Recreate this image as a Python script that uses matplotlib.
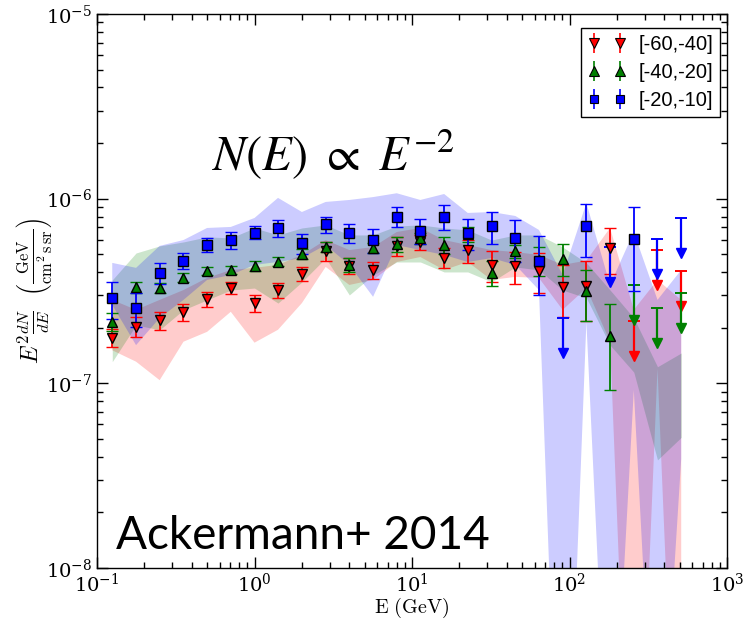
import numpy as np
import matplotlib
matplotlib.use("Agg")
import matplotlib.pyplot as plt

plt.rcParams['mathtext.fontset'] = 'cm'
plt.rcParams['font.family'] = ['DejaVu Serif']

nan = np.nan
SCALE = 1e-7

energy = [0.125, 0.177, 0.25, 0.354, 0.5, 0.707, 1.0, 1.41, 2.0, 2.83, 4.0, 5.66,
          8.0, 11.3, 16.0, 22.6, 32.0, 45.3, 64.0, 90.5, 128, 181, 256, 362, 512]

labels = ['[-60,-40]', '[-40,-20]', '[-20,-10]']

# values in units of 1e-7 GeV cm^-2 s^-1 sr^-1
red_val = [1.77, 2.03, 2.19, 2.43, 2.87, 3.29, 2.72, 3.21, 3.92, 5.23, 4.33, 4.11, 5.54,
           5.8, 4.79, 5.24, 4.38, 4.3, 4.07, 3.34, 3.37, 5.43, nan, nan, nan]
red_err = [0.19, 0.25, 0.24, 0.26, 0.27, 0.26, 0.29, 0.3, 0.34, 0.61, 0.43, 0.45, 0.65,
           0.55, 0.59, 0.74, 0.83, 0.86, 1.0, 1.04, 1.2, 1.53, nan, nan, nan]
red_ul = [nan] * 22 + [2.17, 5.27, 4.08]
red_hi = [2.83, 2.5, 2.83, 3.2, 3.72, 4.11, 4.22, 4.38, 4.96, 5.97, 5.27, 5.47, 6.6,
          6.94, 5.97, 5.61, 5.27, 5.14, 4.96, 4.38, 4.62, 6.94, 2.5, 3.63, 2.83]
red_lo = [1.51, 1.31, 1.04, 1.68, 1.9, 2.44, 1.66, 1.95, 2.72, 4.27, 3.41, 3.63, 4.54,
          4.83, 4.11, 4.54, 3.63, 3.77, 3.72, 2.5, 3.28, 1.68, 0.001, 1.2, 0.001]

green_val = [2.16, 3.31, 3.30, 3.74, 4.06, 4.11, 4.32, 4.56, 5.02, 5.5, 4.38, 5.39, 5.66,
             6.1, 5.61, 6.43, 3.97, 5.18, 4.64, 4.73, 3.15, 1.8, nan, nan, nan]
green_err = [0.23, 0.24, 0.21, 0.2, 0.22, 0.21, 0.27, 0.26, 0.31, 0.34, 0.38, 0.34, 0.53,
             0.4, 0.58, 0.63, 0.6, 0.43, 0.85, 0.94, 0.97, 0.88, nan, nan, nan]
green_ul = [nan] * 22 + [3.41, 2.55, 3.08]
green_hi = [3.63, 5.08, 5.55, 5.83, 6.21, 6.13, 6.94, 6.36, 6.94, 7.21, 6.36, 6.36, 7.11,
            7.21, 6.94, 6.77, 5.97, 6.36, 6.36, 5.47, 4.49, 3.2, 2.26, 1.23, 1.46]
green_lo = [1.31, 2.07, 1.95, 2.5, 2.83, 3.2, 3.28, 2.72, 3.54, 4.77, 3.01, 3.86, 4.54,
            4.54, 4.01, 4.01, 3.54, 4.27, 4.11, 3.2, 2.9, 1.61, 1.15, 0.385, 0.51]

blue_val = [2.89, 2.55, 3.97, 4.6, 5.64, 5.97, 6.55, 6.91, 5.74, 7.27, 6.5, 5.97, 8.0,
            6.71, 8.0, 6.5, 7.11, 6.1, 4.62, nan, 7.11, nan, 6.07, nan, nan]
blue_err = [0.66, 0.52, 0.5, 0.46, 0.52, 0.61, 0.52, 0.71, 0.7, 0.73, 0.77, 0.86, 1.0,
            1.05, 1.2, 1.26, 1.4, 1.54, 1.62, nan, 2.3, nan, 2.9, nan, nan]
blue_ul = [nan] * 19 + [2.25, nan, 5.47, nan, 6.05, 7.89]
blue_hi = [4.49, 4.22, 5.55, 5.97, 6.94, 7.03, 7.86, 10.1, 8.47, 9.6, 9.84, 10.2, 10.7,
           9.84, 10.6, 8.37, 8.47, 8.06, 6.77, 3.86, 9.48, 3.41, 6.6, 2.83, 4.11]
blue_lo = [2.66, 1.61, 2.26, 2.83, 3.63, 3.86, 4.38, 4.54, 4.77, 5.61, 4.38, 2.94, 5.61,
           5.27, 4.96, 4.54, 4.77, 4.38, 3.2, 0.001, 2.15, 0.004, 0.92, 0.0035, 0.39]

series = [
    dict(val=red_val, err=red_err, ul=red_ul, hi=red_hi, lo=red_lo, color='red', marker='v'),
    dict(val=green_val, err=green_err, ul=green_ul, hi=green_hi, lo=green_lo, color='green', marker='^'),
    dict(val=blue_val, err=blue_err, ul=blue_ul, hi=blue_hi, lo=blue_lo, color='blue', marker='s'),
]

fig = plt.figure(figsize=(7.49, 6.19), dpi=100)
ax = fig.add_axes([97 / 749, 1 - 568 / 619, 630 / 749, 554 / 619])

E = np.array(energy)
for s in series:
    ax.fill_between(E, np.array(s['lo']) * SCALE, np.array(s['hi']) * SCALE,
                    color=s['color'], alpha=0.2, lw=0, zorder=1)

ARROW = 0.646
handles = []
for s, lab in zip(series, labels):
    v = np.array(s['val']) * SCALE
    e = np.array(s['err']) * SCALE
    ax.errorbar(E, v, yerr=e, fmt=s['marker'], color=s['color'], mfc=s['color'],
                mec='black', mew=1.0, ms=7 if s['marker'] != 's' else 6.5,
                elinewidth=1.3, capsize=4.5, capthick=1.3, zorder=3)
    ul = np.array(s['ul']) * SCALE
    m = ~np.isnan(ul)
    ax.vlines(E[m], ul[m] * ARROW, ul[m], color=s['color'], lw=1.6, zorder=3)
    ax.plot(E[m], ul[m], ls='none', marker='_', ms=9, mew=1.4, color=s['color'], zorder=3)
    ax.plot(E[m], ul[m] * ARROW, ls='none', marker='v', ms=6.5, color=s['color'],
            mec=s['color'], zorder=3)
    h = ax.errorbar([], [], yerr=[], fmt=s['marker'], color=s['color'], mfc=s['color'],
                    mec='black', mew=0.8, ms=6.5 if s['marker'] != 's' else 6,
                    elinewidth=1.2, capsize=4.5, capthick=1.2)
    handles.append(h)

ax.set_xscale('log')
ax.set_yscale('log')
ax.set_xlim(0.1, 1000)
ax.set_ylim(1e-8, 1e-5)
ax.tick_params(which='both', direction='in', top=True, right=True, labelsize=14)
ax.tick_params(axis='x', pad=3)
ax.tick_params(which='major', length=8, width=1)
ax.tick_params(which='minor', length=4, width=1)
for sp in ax.spines.values():
    sp.set_linewidth(1.0)

ax.set_xlabel(r'$\mathrm{E\ (GeV)}$', fontsize=14.5)
ax.xaxis.set_label_coords(0.5, -0.05)
ax.set_ylabel(r'$E^2\frac{dN}{dE}\ \ \left(\frac{\mathrm{GeV}}{\mathrm{cm^2\,s\,sr}}\right)$',
              fontsize=17)
ax.yaxis.set_label_coords(-0.068, 0.5)

leg = ax.legend(handles, labels, loc='upper right', numpoints=2, fancybox=False,
                edgecolor='black', framealpha=1, handlelength=1.9, handletextpad=0.6,
                borderpad=0.35, labelspacing=0.45, borderaxespad=0.0,
                bbox_to_anchor=(0.989, 0.975),
                prop={'family': 'Liberation Sans', 'size': 14.5})
leg.get_frame().set_linewidth(1.0)

ax.text(0.376, 0.745, r'$N(E)\ \propto\ E^{-2}$', transform=ax.transAxes, fontsize=35,
        ha='center', va='center', math_fontfamily='stix')
ax.text(0.03, 0.019, 'Ackermann+ 2014', transform=ax.transAxes, fontsize=33,
        ha='left', va='bottom', family='Lato')

fig.savefig('out.png', dpi=100)
